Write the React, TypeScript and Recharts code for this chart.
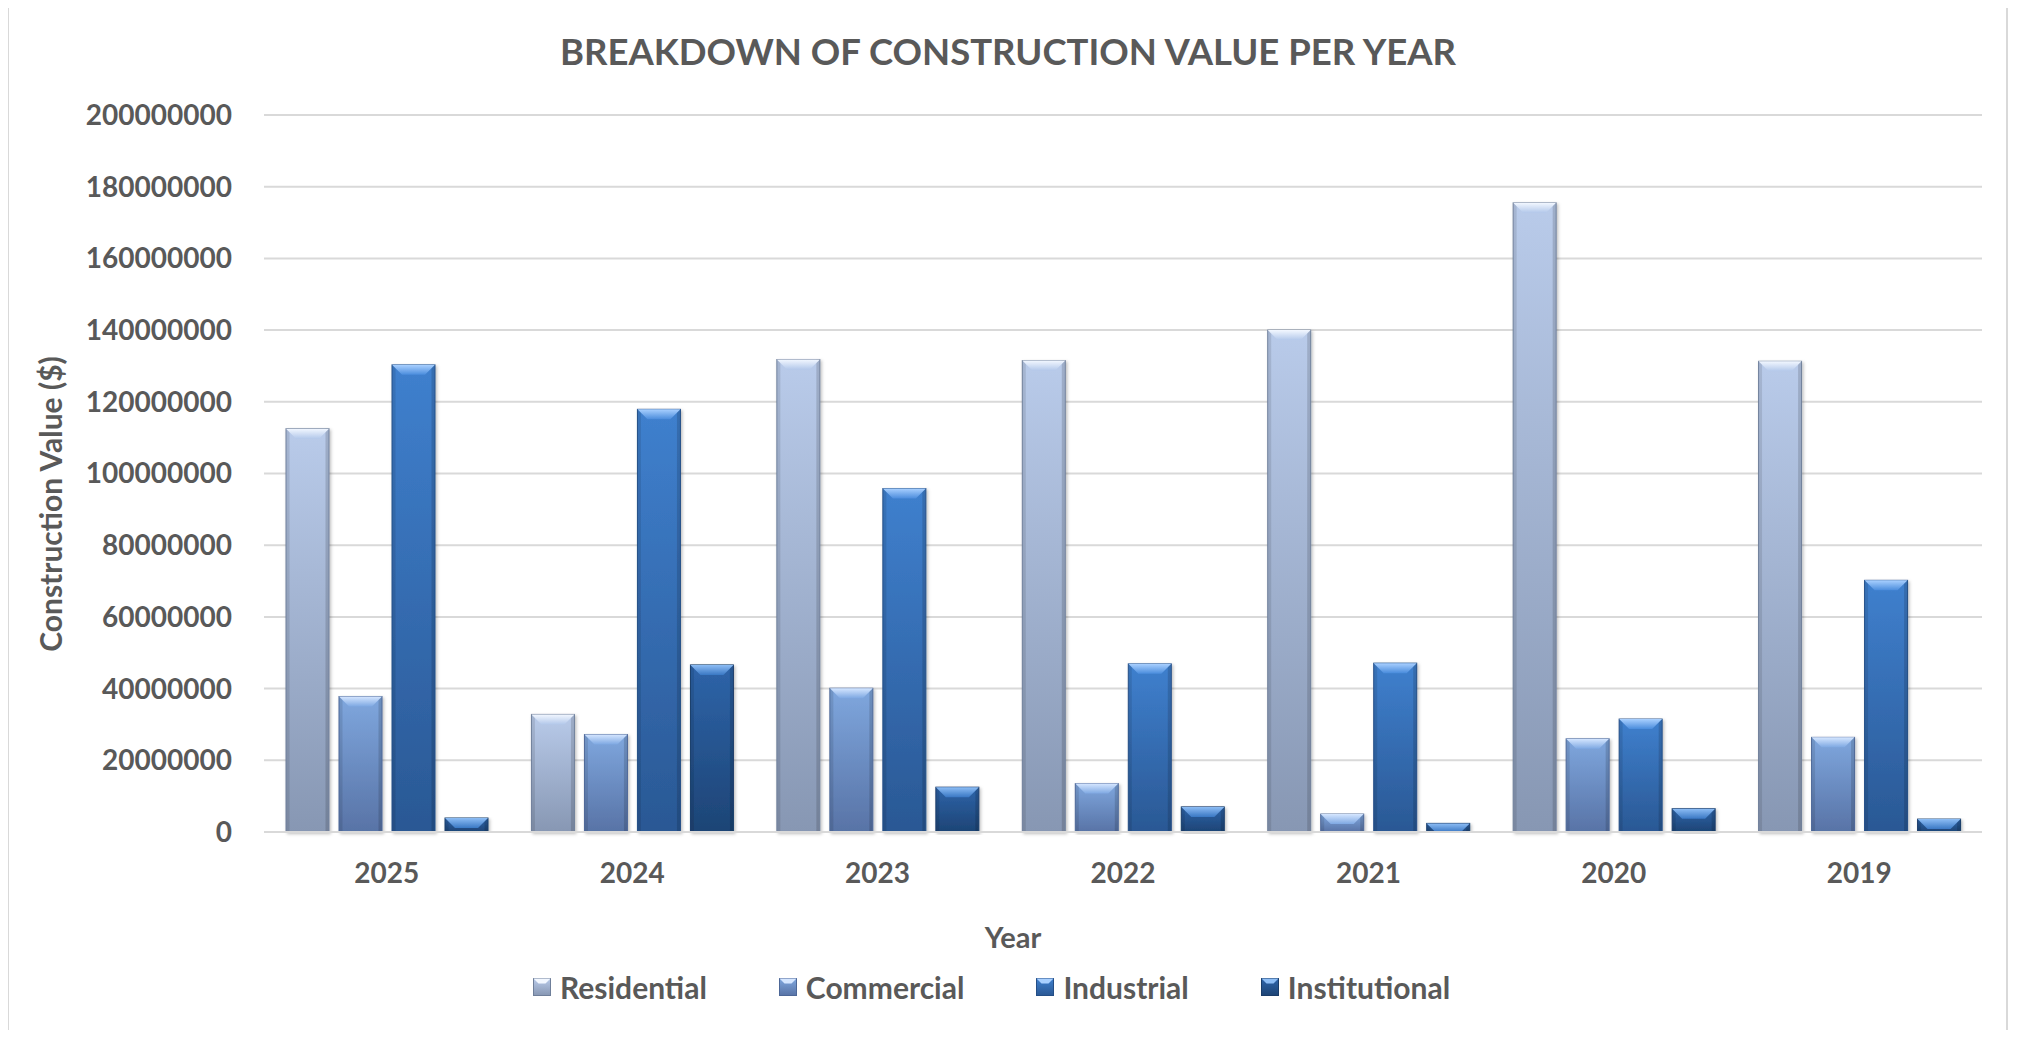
import { BarChart, Bar, XAxis, YAxis, CartesianGrid } from "recharts";

const years = ["2025", "2024", "2023", "2022", "2021", "2020", "2019"];
const residential = [112500000, 32800000, 131800000, 131500000, 140000000, 175500000, 131300000];
const commercial = [37800000, 27200000, 40100000, 13500000, 5000000, 26000000, 26400000];
const industrial = [130300000, 117900000, 95800000, 46900000, 47100000, 31500000, 70200000];
const institutional = [3900000, 46600000, 12500000, 7000000, 2400000, 6500000, 3600000];
const yTicks = [0, 20000000, 40000000, 60000000, 80000000, 100000000, 120000000, 140000000, 160000000, 180000000, 200000000];

const data = years.map((year, i) => ({
  year,
  Residential: residential[i],
  Commercial: commercial[i],
  Industrial: industrial[i],
  Institutional: institutional[i],
}));

const series = [
  { key: "Residential", id: "res", top: "#b9cbea", bottom: "#8797b3", hiTop: "#f2f7ff", hiBottom: "#b3c8ea", edge: "#6f7f9a" },
  { key: "Commercial", id: "com", top: "#7fa7de", bottom: "#5873a6", hiTop: "#d5e6ff", hiBottom: "#7ea8e2", edge: "#4d6797" },
  { key: "Industrial", id: "ind", top: "#3f80ce", bottom: "#2a5894", hiTop: "#a9d0ff", hiBottom: "#4a8cdc", edge: "#244e86" },
  { key: "Institutional", id: "ins", top: "#2e64a9", bottom: "#1d4475", hiTop: "#8dbdf5", hiBottom: "#3a78c4", edge: "#1a3c69" },
];

const font = "Lato, 'Open Sans', sans-serif";
const textColor = "#595959";

function BevelBar(props: any) {
  const { x, y, width, height, s } = props;
  if (!height || height <= 0) return null;
  const b = Math.min(10, height, width / 4);
  return (
    <g filter="url(#barShadow)">
      <rect x={x} y={y} width={width} height={height} fill={`url(#grad-${s.id})`} stroke={s.edge} strokeWidth={1} />
      <rect x={x + 0.5} y={y} width={3} height={height} fill="#000" fillOpacity={0.1} />
      <rect x={x + width - 3.5} y={y} width={3} height={height} fill="#000" fillOpacity={0.14} />
      <polygon
        points={`${x},${y} ${x + width},${y} ${x + width - b},${y + b} ${x + b},${y + b}`}
        fill={`url(#hi-${s.id})`}
      />
    </g>
  );
}

function LegendIcon({ s }: { s: (typeof series)[number] }) {
  return (
    <svg width={18} height={18} style={{ display: "block" }}>
      <defs>
        <linearGradient id={`lg-${s.id}`} x1="0" y1="0" x2="0" y2="1">
          <stop offset="0%" stopColor={s.top} />
          <stop offset="100%" stopColor={s.bottom} />
        </linearGradient>
      </defs>
      <rect x={0.5} y={0.5} width={17} height={17} fill={`url(#lg-${s.id})`} stroke={s.edge} strokeWidth={1} />
      <polygon points="0.5,0.5 17.5,0.5 12.5,5.5 5.5,5.5" fill={s.hiTop} />
    </svg>
  );
}

export default function App() {
  return (
    <div style={{ position: "relative", width: 2018, height: 1038, margin: -8, overflow: "hidden", background: "#fff", fontFamily: font }}>
      <div
        style={{
          position: "absolute",
          left: 7,
          top: 5,
          width: 2001,
          height: 1040,
          border: "2px solid #d9d9d9",
          boxSizing: "border-box",
        }}
      />
      <div style={{ position: "absolute", left: 0, top: 0 }}>
        <BarChart
          width={2018}
          height={1038}
          data={data}
          margin={{ top: 115, right: 36, bottom: 146, left: 64 }}
          barGap={10}
        >
          <defs>
            {series.map((s) => (
              <linearGradient key={`g-${s.id}`} id={`grad-${s.id}`} x1="0" y1="0" x2="0" y2="1">
                <stop offset="0%" stopColor={s.top} />
                <stop offset="100%" stopColor={s.bottom} />
              </linearGradient>
            ))}
            {series.map((s) => (
              <linearGradient key={`h-${s.id}`} id={`hi-${s.id}`} x1="0" y1="0" x2="0" y2="1">
                <stop offset="0%" stopColor={s.hiTop} />
                <stop offset="100%" stopColor={s.hiBottom} />
              </linearGradient>
            ))}
            <filter id="barShadow" x="-20%" y="-5%" width="140%" height="110%">
              <feDropShadow dx={1.5} dy={1.5} stdDeviation={1.5} floodColor="#000" floodOpacity={0.25} />
            </filter>
          </defs>
          <CartesianGrid vertical={false} stroke="#d9d9d9" strokeWidth={2} />
          <XAxis
            dataKey="year"
            height={60}
            tickLine={false}
            axisLine={{ stroke: "#d9d9d9", strokeWidth: 2 }}
            tickSize={0}
            tickMargin={31}
            tick={{ fill: textColor, fontSize: 28, fontWeight: 700, fontFamily: font }}
          />
          <YAxis
            width={200}
            domain={[0, 200000000]}
            ticks={yTicks}
            interval={0}
            tickLine={false}
            axisLine={false}
            tickSize={0}
            tickMargin={32}
            tickFormatter={(v: number) => String(v)}
            tick={{ fill: textColor, fontSize: 28, fontWeight: 700, fontFamily: font }}
          />
          {series.map((s) => (
            <Bar
              key={s.key}
              dataKey={s.key}
              barSize={43}
              isAnimationActive={false}
              fill={s.top}
              shape={(p: any) => <BevelBar {...p} s={s} />}
            />
          ))}
        </BarChart>
      </div>
      <svg width={2018} height={1038} style={{ position: "absolute", left: 0, top: 0, pointerEvents: "none" }}>
        <text x={1008} y={65} textAnchor="middle" fill={textColor} fontSize={36.5} fontWeight={700} fontFamily={font}>
          BREAKDOWN OF CONSTRUCTION VALUE PER YEAR
        </text>
        <text x={1013} y={948} textAnchor="middle" fill={textColor} fontSize={29} fontWeight={700} fontFamily={font}>
          Year
        </text>
        <text
          transform="translate(62,504) rotate(-90)"
          textAnchor="middle"
          fill={textColor}
          fontSize={30}
          fontWeight={700}
          fontFamily={font}
        >
          Construction Value ($)
        </text>
      </svg>
      <div
        style={{
          position: "absolute",
          left: 533,
          top: 972,
          display: "flex",
          alignItems: "center",
          gap: 72,
          color: textColor,
          fontSize: 30,
          fontWeight: 700,
          lineHeight: "30px",
        }}
      >
        {series.map((s) => (
          <div key={s.key} style={{ display: "flex", alignItems: "center", gap: 9 }}>
            <LegendIcon s={s} />
            <span>{s.key}</span>
          </div>
        ))}
      </div>
    </div>
  );
}
